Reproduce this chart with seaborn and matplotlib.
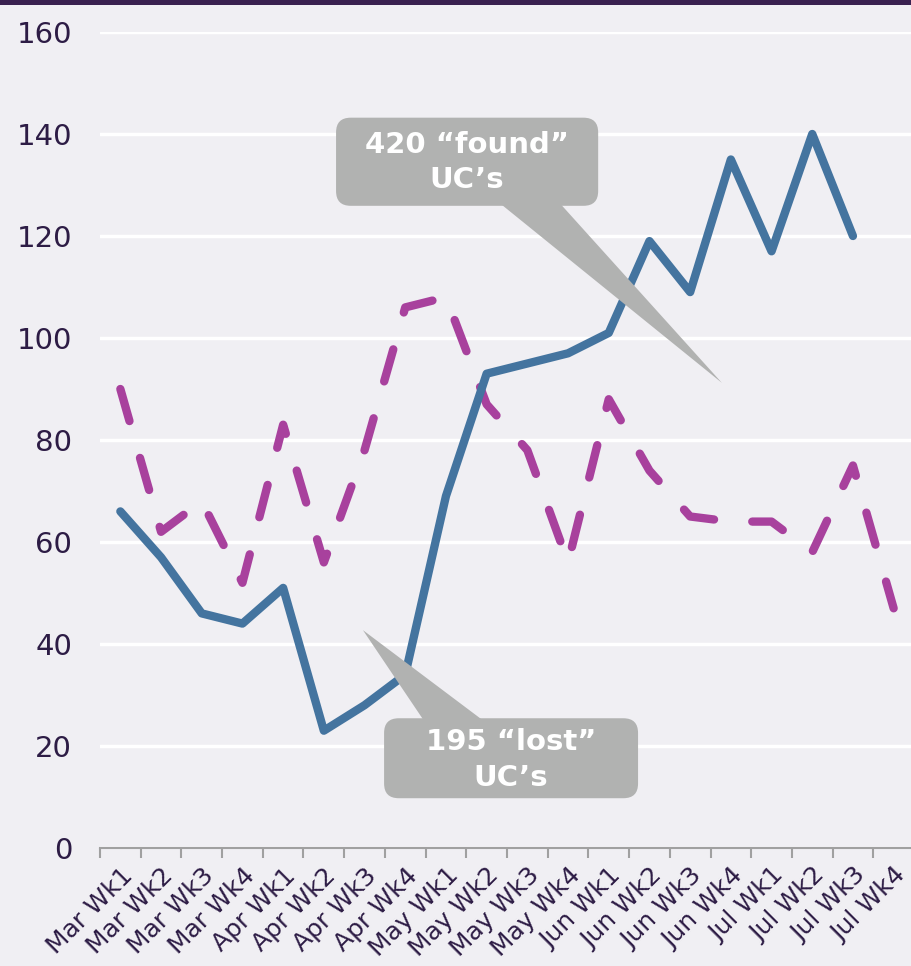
import numpy as np
import pandas as pd
import matplotlib
matplotlib.use("Agg")
import matplotlib.pyplot as plt
import seaborn as sns
from matplotlib.patches import FancyBboxPatch, Polygon, Rectangle

# data
weeks = ["Mar Wk1", "Mar Wk2", "Mar Wk3", "Mar Wk4",
         "Apr Wk1", "Apr Wk2", "Apr Wk3", "Apr Wk4",
         "May Wk1", "May Wk2", "May Wk3", "May Wk4",
         "Jun Wk1", "Jun Wk2", "Jun Wk3", "Jun Wk4",
         "Jul Wk1", "Jul Wk2", "Jul Wk3", "Jul Wk4"]
solid_values = [66, 57, 46, 44, 51, 23, 28, 34, 69, 93,
                95, 97, 101, 119, 109, 135, 117, 140, 120, np.nan]
dashed_values = [90, 62, 68, 52, 83, 56, 78, 106, 108, 87,
                 78, 56, 88, 74, 65, 64, 64, 58, 75, 47]
y_ticks = [0, 20, 40, 60, 80, 100, 120, 140, 160]

found_text = "420 \u201cfound\u201d\nUC\u2019s"
lost_text = "195 \u201clost\u201d\nUC\u2019s"

# colours
BG = "#f0eff3"
BLUE = "#44749f"
PINK = "#a8419d"
INK = "#2d1c45"
CALLOUT = "#b1b2b1"
AXIS_GREY = "#a0a0a0"

sns.set_theme(style="white")
plt.rcParams["font.family"] = ["DejaVu Sans"]

df = pd.DataFrame({"week": weeks, "solid": solid_values, "dashed": dashed_values})

fig = plt.figure(figsize=(9.12, 9.66), dpi=100, facecolor=BG)
ax = fig.add_axes([100 / 912, 118 / 966, 814 / 912, 816 / 966])
ax.set_facecolor(BG)

# dashed series first so the solid one sits on top
sns.lineplot(data=df, x="week", y="dashed", color=PINK, linewidth=6,
             sort=False, ax=ax)
sns.lineplot(data=df, x="week", y="solid", color=BLUE, linewidth=6,
             sort=False, ax=ax)
dash_line, solid_line = ax.lines[0], ax.lines[1]
dash_line.set_dashes((4.0, 4.6))
dash_line.set_dash_capstyle("round")
dash_line.set_dash_joinstyle("round")
solid_line.set_solid_capstyle("round")
solid_line.set_solid_joinstyle("round")

ax.set_xlim(-0.5, len(weeks) - 0.5)
ax.set_ylim(0, 160)
ax.set_xlabel("")
ax.set_ylabel("")

ax.set_xticks(range(len(weeks)))
ax.set_xticklabels(weeks, rotation=45, ha="right", rotation_mode="anchor")
ax.set_xticks(np.arange(-0.5, len(weeks), 1), minor=True)
ax.tick_params(axis="x", which="major", length=0, pad=11, labelsize=18, labelcolor=INK)
ax.tick_params(axis="x", which="minor", length=7, width=1.5, color=AXIS_GREY,
               direction="out", bottom=True)
ax.set_yticks(y_ticks)
ax.tick_params(axis="y", length=0, pad=20, labelsize=21, labelcolor=INK)

ax.yaxis.grid(True, color="white", linewidth=2.5)
ax.xaxis.grid(False)
ax.set_axisbelow(True)
for side in ["left", "right", "top"]:
    ax.spines[side].set_visible(False)
ax.spines["bottom"].set_color(AXIS_GREY)
ax.spines["bottom"].set_linewidth(1.5)


def callout(box, base, tip, text, text_xy):
    x0, y0, x1, y1 = box
    ax.add_patch(Polygon([base[0], base[1], tip], closed=True, transform=ax.transAxes,
                         facecolor=CALLOUT, edgecolor="none", zorder=5, clip_on=False))
    ax.add_patch(FancyBboxPatch((x0, y0), x1 - x0, y1 - y0,
                                boxstyle="round,pad=0,rounding_size=0.018",
                                transform=ax.transAxes, facecolor=CALLOUT,
                                edgecolor="none", zorder=5, clip_on=False))
    ax.text(text_xy[0], text_xy[1], text, transform=ax.transAxes, ha="center",
            va="center", multialignment="center", color="white", fontsize=21,
            fontweight="bold", linespacing=1.35, zorder=6)


callout((0.290, 0.787, 0.612, 0.895), [(0.479, 0.80), (0.556, 0.80)], (0.764, 0.570),
        found_text, (0.451, 0.840))
callout((0.349, 0.061, 0.661, 0.159), [(0.402, 0.15), (0.479, 0.15)], (0.323, 0.267),
        lost_text, (0.505, 0.108))

# thin dark band across the top
fig.add_artist(Rectangle((0, 1 - 5 / 966), 1, 5 / 966, transform=fig.transFigure,
                         facecolor="#3a2150", edgecolor="none"))

fig.savefig("out.png", dpi=100, facecolor=fig.get_facecolor())
